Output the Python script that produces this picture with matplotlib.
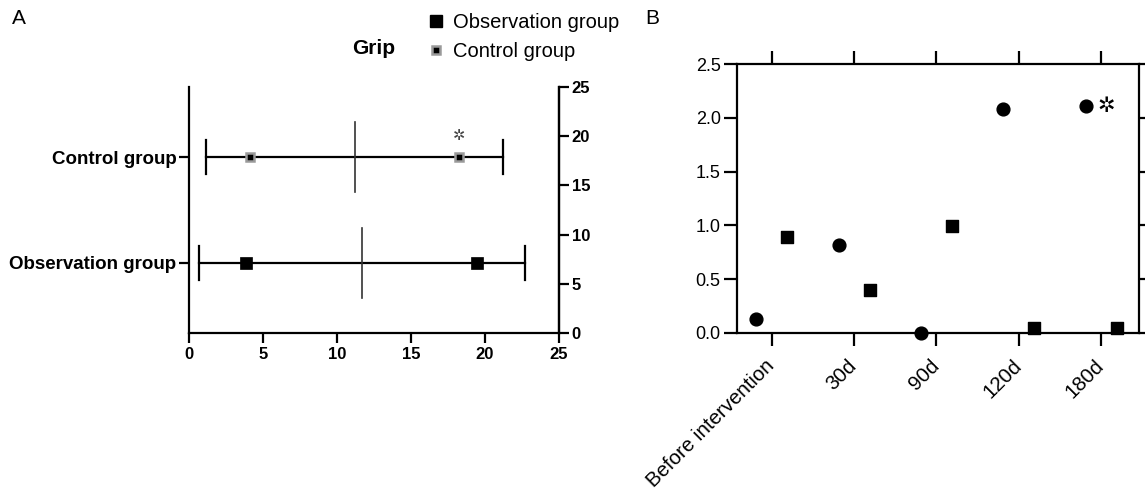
import matplotlib
matplotlib.use("Agg")
import matplotlib.pyplot as plt
from matplotlib.lines import Line2D
import numpy as np

plt.rcParams['font.family'] = ['Liberation Sans', 'DejaVu Sans']

# ---------------- Panel A data (Grip) ----------------
groups_a = ["Observation group", "Control group"]
group_pos_a = [7.14, 17.86]
whisker_low = [0.68, 1.15]
marker_low = [3.87, 4.12]
centre_val = [11.69, 11.2]
marker_high = [19.44, 18.27]
whisker_high = [22.68, 21.2]
a_ticks = [0, 5, 10, 15, 20, 25]

# ---------------- Panel B data ----------------
timepoints = ["Before intervention", "30d", "90d", "120d", "180d"]
obs_b = [0.13, 0.82, 0.0, 2.08, 2.115]
ctrl_b = [0.89, 0.40, 0.99, 0.04, 0.04]
b_yticks = [0.0, 0.5, 1.0, 1.5, 2.0, 2.5]

W, H = 1145, 494
fig = plt.figure(figsize=(W / 100, H / 100), dpi=100)

def box(l, t, r, b):
    return [l / W, 1 - b / H, (r - l) / W, (b - t) / H]

LW = 1.6
# ---------------- Panel A ----------------
ax = fig.add_axes(box(189, 87, 559, 333))
ax.set_xlim(0, 25)
ax.set_ylim(0, 25)
ax.spines['top'].set_visible(False)
for s in ['left', 'right', 'bottom']:
    ax.spines[s].set_linewidth(LW)
ax.set_xticks(a_ticks)
ax.set_xticklabels([str(t) for t in a_ticks], fontsize=12, fontweight='bold')
ax.set_yticks(group_pos_a)
ax.set_yticklabels(groups_a, fontsize=13.5, fontweight='bold')
ax.tick_params(axis='both', direction='out', length=7, width=LW, pad=2)
ax.tick_params(axis='x', pad=3)

axr = ax.twinx()
axr.set_ylim(0, 25)
axr.set_yticks(a_ticks)
axr.set_yticklabels([str(t) for t in a_ticks], fontsize=12, fontweight='bold')
axr.tick_params(axis='y', direction='out', length=7, width=LW, pad=2)
for s in ['left', 'top', 'bottom']:
    axr.spines[s].set_visible(False)
axr.spines['right'].set_linewidth(LW)

for i, y in enumerate(group_pos_a):
    ax.plot([whisker_low[i], whisker_high[i]], [y, y], color='black', lw=LW, zorder=3)
    for xw in (whisker_low[i], whisker_high[i]):
        ax.plot([xw, xw], [y - 1.73, y + 1.73], color='black', lw=LW, zorder=3)
    ax.plot([centre_val[i], centre_val[i]], [y - 3.57, y + 3.57], color='#333333', lw=1.2, zorder=3)
    if i == 0:
        ax.plot([marker_low[i], marker_high[i]], [y, y], ls='none', marker='s', ms=8.6,
                mfc='black', mec='black', mew=0.5, zorder=4)
    else:
        ax.plot([marker_low[i], marker_high[i]], [y, y], ls='none', marker='s', ms=6.2,
                mfc='black', mec='#9a9a9a', mew=1.8, zorder=4)
ax.text(marker_high[1], 20.05, '✲', ha='center', va='center', fontsize=10.5,
        color='#444444', family=['DejaVu Sans'])

# legend
h_obs = Line2D([], [], ls='none', marker='s', ms=8.6, mfc='black', mec='black')
h_ctl = Line2D([], [], ls='none', marker='s', ms=6.2, mfc='black', mec='#9a9a9a', mew=1.8)
fig.legend([h_obs, h_ctl], ["Observation group", "Control group"], loc='upper left',
           bbox_to_anchor=(428 / W, 1 - 13 / H), frameon=False, fontsize=14.5,
           handlelength=0.8, handletextpad=0.45, labelspacing=0.5, borderpad=0,
           borderaxespad=0)
fig.text(395 / W, 1 - 49 / H, 'Grip', ha='right', va='center', fontsize=15, fontweight='bold')
fig.text(12 / W, 1 - 18 / H, 'A', ha='left', va='center', fontsize=15)
fig.text(645 / W, 1 - 18 / H, 'B', ha='left', va='center', fontsize=15)

# ---------------- Panel B ----------------
bx = fig.add_axes(box(736.7, 64.3, 1139, 332.7))
xpos = np.arange(len(timepoints))
bx.set_xlim(-0.425, 4.463)
bx.set_ylim(0, 2.5)
bx.scatter(xpos - 0.185, obs_b, marker='o', s=9.2 ** 2, color='black', zorder=4, clip_on=False)
bx.scatter(xpos + 0.19, ctrl_b, marker='s', s=8.6 ** 2, color='black', zorder=4, clip_on=False)
bx.text(4 + 0.06, 2.115, '✲', ha='center', va='center', fontsize=15,
        color='black', family=['DejaVu Sans'])
for s in bx.spines.values():
    s.set_linewidth(LW)
bx.set_xticks(xpos)
bx.set_xticklabels(timepoints, fontsize=14.8, rotation=45, ha='right', va='center',
                   rotation_mode='anchor')
bx.set_yticks(b_yticks)
bx.set_yticklabels([f"{v:.1f}" for v in b_yticks], fontsize=13)
bx.tick_params(axis='both', direction='out', length=9.5, width=LW, top=True, right=True,
               labeltop=False, labelright=False)
bx.tick_params(axis='y', pad=2)
bx.tick_params(axis='x', pad=12)

fig.savefig('out.png', dpi=100)
